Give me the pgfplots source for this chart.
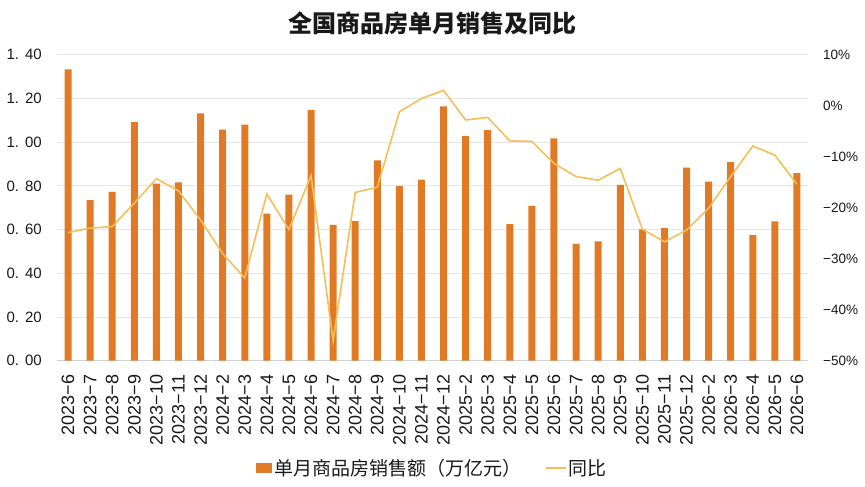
\documentclass[border=0pt]{standalone}
\usepackage{fontspec}
\setmainfont{Noto Sans CJK SC}
\newfontfamily\lat{Liberation Sans}
\usepackage{pgfplots}
\usepackage{pgfplotstable}
\pgfplotsset{compat=1.18}
\definecolor{barc}{RGB}{224,122,37}
\definecolor{linec}{RGB}{246,190,88}
\definecolor{gridc}{RGB}{230,230,230}
\definecolor{axc}{RGB}{210,210,210}
\definecolor{txt}{RGB}{25,25,25}

\pgfplotstableread{
x v p
0 1.333 -24.9
1 0.735 -24.0
2 0.772 -23.7
3 1.092 -19.1
4 0.810 -14.3
5 0.816 -16.7
6 1.132 -22.4
7 1.057 -29.0
8 1.080 -33.8
9 0.673 -17.3
10 0.760 -24.3
11 1.148 -13.7
12 0.621 -46.1
13 0.639 -17.0
14 0.917 -16.0
15 0.799 -1.2
16 0.828 1.4
17 1.164 3.0
18 1.027 -2.8
19 1.055 -2.3
20 0.625 -6.9
21 0.708 -7.0
22 1.017 -11.3
23 0.535 -13.9
24 0.546 -14.6
25 0.804 -12.3
26 0.601 -24.2
27 0.607 -26.7
28 0.883 -24.4
29 0.819 -20.1
30 0.909 -13.9
31 0.575 -7.9
32 0.637 -9.7
33 0.858 -15.4
}\data

\begin{document}
\begin{tikzpicture}
\path[use as bounding box] (0,0) rectangle (865pt,-487pt);
\node[font=\fontsize{24}{28}\selectfont\bfseries, text=txt] at (432.5pt,-23pt) {全国商品房单月销售及同比};
\begin{axis}[
  at={(57pt,-360.7pt)}, anchor=south west,
  scale only axis, width=751pt, height=306pt,
  xmin=-0.5, xmax=33.5, ymin=0, ymax=1.4,
  axis line style={draw=none},
  ybar, bar width=7pt,
  xtick={0,...,33},
  xticklabels={2023−6,2023−7,2023−8,2023−9,2023−10,2023−11,2023−12,2024−2,2024−3,2024−4,2024−5,2024−6,2024−7,2024−8,2024−9,2024−10,2024−11,2024−12,2025−2,2025−3,2025−4,2025−5,2025−6,2025−7,2025−8,2025−9,2025−10,2025−11,2025−12,2026−2,2026−3,2026−4,2026−5,2026−6},
  ytick={0,0.2,0.4,0.6,0.8,1.0,1.2,1.4},
  yticklabels={0.\hspace{0.4em}00,0.\hspace{0.4em}20,0.\hspace{0.4em}40,0.\hspace{0.4em}60,0.\hspace{0.4em}80,1.\hspace{0.4em}00,1.\hspace{0.4em}20,1.\hspace{0.4em}40},
  ymajorgrids, grid style={gridc, line width=0.8pt},
  major tick length=0pt, tick style={draw=none},
  xticklabel style={rotate=90, anchor=east, font=\lat\fontsize{18}{18}\selectfont, text=txt, inner sep=0pt},
  xticklabel shift=14pt,
  yticklabel style={anchor=east, font=\lat\fontsize{15}{15}\selectfont, text=txt, inner sep=0pt},
  yticklabel shift=15pt,
  legend style={draw=none, fill=none, at={(0.5,-0.351)}, anchor=center, font=\fontsize{19}{21}\selectfont, text=txt, /tikz/every even column/.append style={column sep=22pt}},
  legend columns=2,
  legend cell align=left,
]
\draw[axc, line width=0.9pt] (axis cs:-0.5,0) -- (axis cs:33.5,0);
\addplot[fill=barc, draw=none, legend image code/.code={\fill[barc] (0pt,-5pt) rectangle (16pt,5pt);}] table[x=x,y=v]{\data};
\addlegendentry{单月商品房销售额（万亿元）}
\addlegendimage{legend image code/.code={\draw[linec, line width=1.6pt] (0pt,0pt) -- (20pt,0pt);}}
\addlegendentry{同比}
\end{axis}
\begin{axis}[
  at={(57pt,-360.7pt)}, anchor=south west,
  scale only axis, width=751pt, height=306pt,
  xmin=-0.5, xmax=33.5, ymin=-50, ymax=10,
  axis line style={draw=none},
  axis y line*=right,
  xtick=\empty,
  ytick={-50,-40,-30,-20,-10,0,10},
  yticklabels={−50\%,−40\%,−30\%,−20\%,−10\%,0\%,10\%},
  major tick length=0pt, tick style={draw=none},
  yticklabel style={anchor=west, font=\lat\fontsize{13.5}{14}\selectfont, text=txt, inner sep=0pt},
  yticklabel shift=15pt,
]
\addplot[linec, line width=1.6pt, mark=none] table[x=x,y=p]{\data};
\end{axis}
\end{tikzpicture}
\end{document}
